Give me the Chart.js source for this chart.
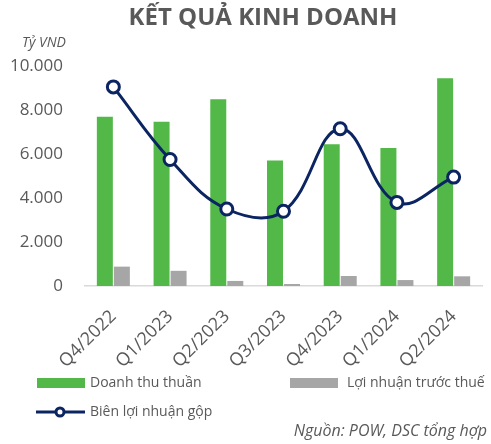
<!DOCTYPE html>
<html>
<head>
<meta charset="utf-8">
<script src="https://cdn.jsdelivr.net/npm/chart.js@4.4.0/dist/chart.umd.min.js"></script>
<style>
  html, body { margin: 0; padding: 0; background: #fff; }
  #wrap { width: 491px; height: 444px; position: relative; }
</style>
</head>
<body>
<div id="wrap"><canvas id="kqkd" width="491" height="444"></canvas></div>
<script>
const quarters = ['Q4/2022', 'Q1/2023', 'Q2/2023', 'Q3/2023', 'Q4/2023', 'Q1/2024', 'Q2/2024'];
const doanhThu = [7690, 7470, 8490, 5710, 6440, 6270, 9440];
const loiNhuan = [880, 690, 230, 90, 455, 270, 440];
const bienLN = [18.1, 11.5, 7.0, 6.8, 14.3, 7.6, 9.9];
const yTicks = [0, 2000, 4000, 6000, 8000, 10000];

const GREEN = '#52B848';
const GRAY = '#A6A6A6';
const NAVY = '#0B2462';
const TXT = '#595959';
const FONT = '"Open Sans", "Noto Sans", sans-serif';

// title, unit, legend and source drawn on top of the chart
const extras = {
  id: 'extras',
  afterDraw(chart) {
    const c = chart.ctx;
    const [line, dt, ln] = chart.data.datasets;
    c.save();
    c.fillStyle = TXT;
    c.textBaseline = 'middle';

    c.font = 'bold 24px ' + FONT;
    c.textAlign = 'center';
    c.fillText('KẾT QUẢ KINH DOANH', 263, 18);

    c.font = 'italic 14px ' + FONT;
    c.textAlign = 'left';
    c.fillText('Tỷ VND', 22, 43);

    // legend
    c.font = '14px ' + FONT;
    c.fillStyle = dt.backgroundColor;
    c.fillRect(37, 378, 48, 10);
    c.fillStyle = ln.backgroundColor;
    c.fillRect(290, 378, 48, 10);
    c.fillStyle = TXT;
    c.fillText(dt.label, 90, 383);
    c.fillText(ln.label, 347, 383);

    c.strokeStyle = line.borderColor;
    c.lineWidth = 3;
    c.beginPath();
    c.moveTo(36, 412);
    c.lineTo(85, 412);
    c.stroke();
    c.beginPath();
    c.arc(60, 412, 4, 0, Math.PI * 2);
    c.fillStyle = '#fff';
    c.fill();
    c.stroke();
    c.fillStyle = TXT;
    c.fillText(line.label, 90, 412);

    c.font = 'italic 16px ' + FONT;
    c.textAlign = 'right';
    c.fillText('Nguồn: POW, DSC tổng hợp', 487, 431);
    c.restore();
  }
};

new Chart(document.getElementById('kqkd').getContext('2d'), {
  type: 'bar',
  data: {
    labels: quarters,
    datasets: [
      {
        type: 'line',
        label: 'Biên lợi nhuận gộp',
        data: bienLN,
        yAxisID: 'y1',
        borderColor: NAVY,
        borderWidth: 3,
        tension: 0.4,
        pointRadius: 6,
        pointBorderWidth: 3,
        pointBackgroundColor: '#fff',
        pointBorderColor: NAVY,
        order: 0
      },
      {
        label: 'Doanh thu thuần',
        data: doanhThu,
        backgroundColor: GREEN,
        barPercentage: 0.94,
        categoryPercentage: 0.6,
        order: 1
      },
      {
        label: 'Lợi nhuận trước thuế',
        data: loiNhuan,
        backgroundColor: GRAY,
        barPercentage: 0.94,
        categoryPercentage: 0.6,
        order: 1
      }
    ]
  },
  options: {
    responsive: false,
    animation: false,
    layout: { padding: { top: 66, right: 1, left: 0, bottom: 0 } },
    plugins: {
      legend: { display: false },
      tooltip: { enabled: false }
    },
    scales: {
      x: {
        grid: { display: false, drawTicks: false },
        border: { color: '#D9D9D9', width: 1.5 },
        ticks: {
          color: TXT,
          font: { family: FONT, size: 18 },
          minRotation: 45,
          maxRotation: 45,
          padding: 20
        },
        afterFit: s => { s.height = 158; }
      },
      y: {
        min: 0,
        max: 10000,
        afterBuildTicks: s => { s.ticks = yTicks.map(v => ({ value: v })); },
        grid: { display: false, drawTicks: false },
        border: { display: false },
        ticks: {
          color: TXT,
          font: { family: FONT, size: 17 },
          padding: 22,
          callback: v => v.toLocaleString('de-DE')
        },
        afterFit: s => { s.width = 85; }
      },
      y1: {
        display: false,
        min: 0,
        max: 20
      }
    }
  },
  plugins: [extras]
});
</script>
</body>
</html>
